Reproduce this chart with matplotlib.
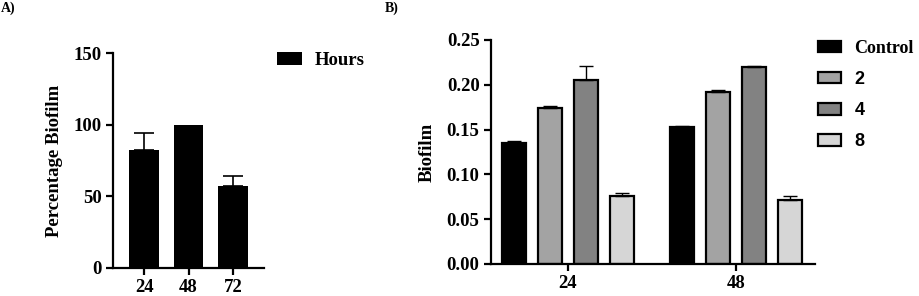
import numpy as np
import matplotlib
matplotlib.use("Agg")
import matplotlib.pyplot as plt
from matplotlib.patches import Patch

plt.rcParams['font.family'] = ['Liberation Serif', 'DejaVu Serif']
plt.rcParams['font.weight'] = 'bold'

# Panel A data
hours = ['24', '48', '72']
pct_biofilm = [82, 100, 57]
pct_err = [12, 0, 7]

# Panel B data
groups = ['24', '48']
series = ['Control', '2', '4', '8']
biofilm = {
    'Control': [0.135, 0.1525],
    '2': [0.174, 0.1925],
    '4': [0.205, 0.2195],
    '8': [0.0757, 0.0709],
}
biofilm_err = {
    'Control': [0.002, 0.001],
    '2': [0.002, 0.002],
    '4': [0.016, 0.001],
    '8': [0.003, 0.0045],
}
colors = ['#000000', '#a3a3a3', '#828282', '#d6d6d6']

W, H = 919, 296
fig = plt.figure(figsize=(W / 100, H / 100), dpi=100)


def px_axes(left, right, top, bottom):
    return fig.add_axes([left / W, (H - bottom) / H, (right - left) / W, (bottom - top) / H])


def style(ax):
    for s in ['top', 'right']:
        ax.spines[s].set_visible(False)
    for s in ['left', 'bottom']:
        ax.spines[s].set_linewidth(1.6)
    ax.tick_params(width=1.6, length=5, labelsize=13.5, pad=3)
    for lab in ax.get_xticklabels() + ax.get_yticklabels():
        lab.set_fontweight('bold')


# ---- Panel A ----
axA = px_axes(113, 264, 53, 268)
xa = np.arange(len(hours))
axA.bar(xa, pct_biofilm, width=0.67, color='black')
# only upper error bars, skip bars without error
has_err = [i for i, e in enumerate(pct_err) if e > 0]
axA.errorbar(xa[has_err], [pct_biofilm[i] for i in has_err],
             yerr=[[0] * len(has_err), [pct_err[i] for i in has_err]],
             fmt='none', ecolor='black', elinewidth=1.2, capsize=7, capthick=1.2)
axA.set_xlim(-0.7, 2.7)
axA.set_ylim(0, 150)
axA.set_yticks([0, 50, 100, 150])
axA.set_xticks(xa)
axA.set_xticklabels(hours)
axA.set_ylabel('Percentage Biofilm', fontsize=13.5, fontweight='bold', labelpad=8)
style(axA)
axA.legend(handles=[Patch(facecolor='black', label='Hours')], loc='upper left',
           bbox_to_anchor=((277 - 113) / 151, (268 - 52) / 215), frameon=False,
           fontsize=13.5, borderpad=0, borderaxespad=0,
           handlelength=1.33, handleheight=0.64, handletextpad=0.7)

# ---- Panel B ----
axB = px_axes(490.7, 815, 40, 264)
xb = np.arange(len(groups))
slot = 0.214
bw = 0.14
for i, name in enumerate(series):
    off = (i - 1.5) * slot
    axB.bar(xb + off, biofilm[name], width=bw, color=colors[i],
            edgecolor='black', linewidth=1.6, label=name,
            yerr=[[0, 0], biofilm_err[name]], capsize=5,
            error_kw=dict(ecolor='black', elinewidth=1.0, capthick=1.0))
axB.set_xlim(-0.46, 1.47)
axB.set_ylim(0, 0.25)
axB.set_yticks([0, 0.05, 0.10, 0.15, 0.20, 0.25])
axB.set_yticklabels(['0.00', '0.05', '0.10', '0.15', '0.20', '0.25'])
axB.set_xticks(xb)
axB.set_xticklabels(groups)
axB.set_ylabel('Biofilm', fontsize=13.5, fontweight='bold', labelpad=8)
style(axB)
leg = axB.legend(loc='upper left',
                 bbox_to_anchor=((818 - 490.7) / 324.3, (264 - 40) / 224),
                 frameon=False, fontsize=13, borderpad=0, borderaxespad=0,
                 handlelength=1.3, handleheight=0.6, handletextpad=0.72,
                 labelspacing=0.78)
for t in leg.get_texts():
    if t.get_text() != 'Control':
        t.set_family(['Liberation Sans', 'DejaVu Sans'])

fig.text(1 / W, 1 - 8 / H, 'A)', fontsize=10, fontweight='bold', va='center')
fig.text(385 / W, 1 - 8 / H, 'B)', fontsize=10, fontweight='bold', va='center')

fig.savefig('out.png', dpi=100)
